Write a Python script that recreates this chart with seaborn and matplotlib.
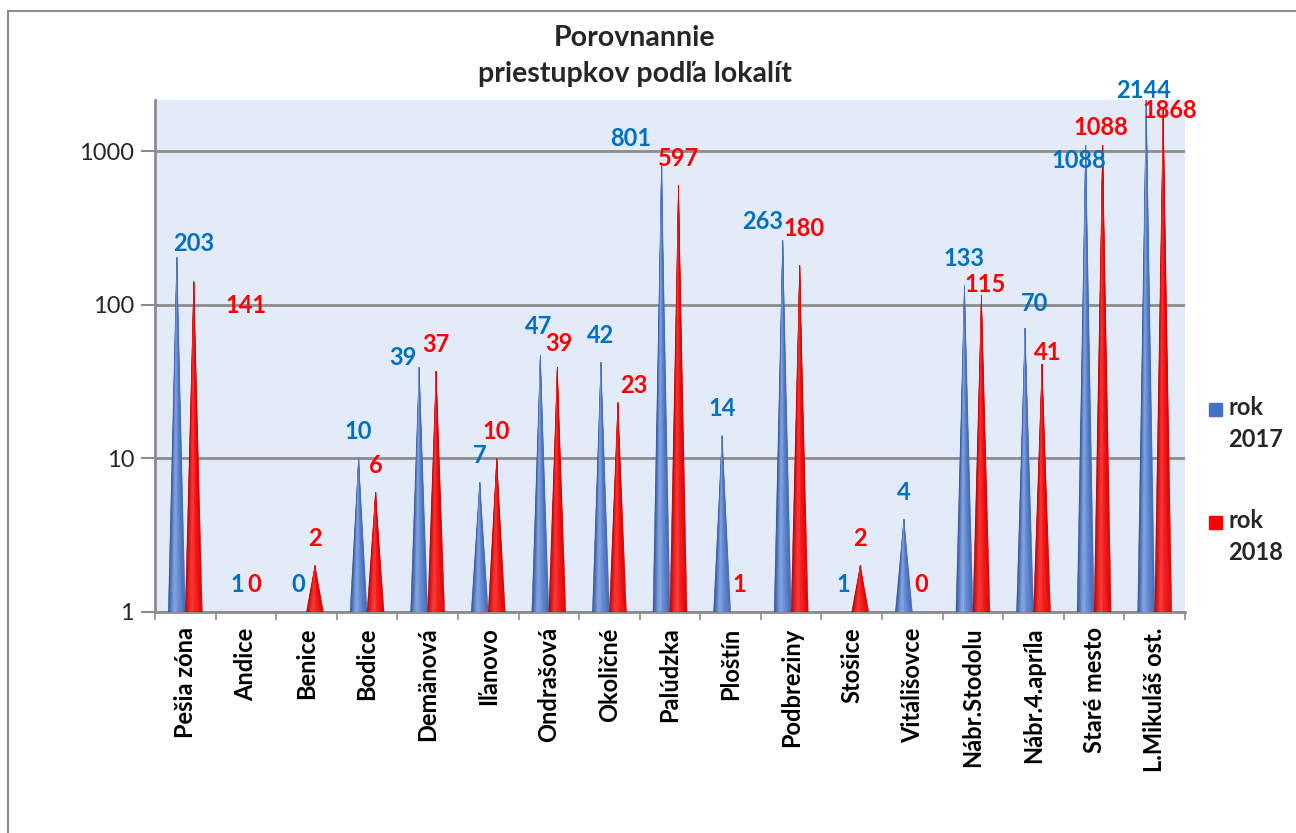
import numpy as np
import pandas as pd
import matplotlib
matplotlib.use("Agg")
import matplotlib.pyplot as plt
from matplotlib.patches import Rectangle
from matplotlib.colors import to_rgb
import seaborn as sns

# ---------------- data ----------------
categories = ["Pešia zóna", "Andice", "Benice", "Bodice", "Demänová", "Iľanovo",
              "Ondrašová", "Okoličné", "Palúdzka", "Ploštín", "Podbreziny", "Stošice",
              "Vitálišovce", "Nábr.Stodolu", "Nábr.4.apríla", "Staré mesto", "L.Mikuláš ost."]
values_2017 = [203, 1, 0, 10, 39, 7, 47, 42, 801, 14, 263, 1, 4, 133, 70, 1088, 2144]
values_2018 = [141, 0, 2, 6, 37, 10, 39, 23, 597, 1, 180, 2, 0, 115, 41, 1088, 1868]
series_names = ["rok 2017", "rok 2018"]
ytick_values = [1, 10, 100, 1000]
title_text = "Porovnannie\npriestupkov podľa lokalít"

# ---------------- style ----------------
sns.set_style("white")
plt.rcParams["font.family"] = ["Lato", "DejaVu Sans"]

blue_main = "#4472C4"
red_main = "#FF0000"
label_colors = ["#0070C0", "#FF0000"]
# gradient stops (left edge, highlight, right edge)
grad = [
    ["#2B4F93", "#7FA3E3", "#4169B8"],
    ["#B00000", "#FF3030", "#E00000"],
]

# label nudges in pixels (dx, dy) relative to default (centered, 27 px above tip)
nudges = {
    (0, 0): (17, -13), (1, 0): (52, -51),
    (0, 4): (-16, -17),
    (0, 6): (-2, 2), (1, 6): (2, -3),
    (1, 7): (16, -10),
    (0, 8): (-31, 0),
    (0, 10): (-20, -8), (1, 10): (4, 10),
    (1, 13): (4, -16),
    (0, 14): (10, -2), (1, 14): (6, -15),
    (0, 15): (-7, -42), (1, 15): (-2, -9),
    (0, 16): (-3, -17), (1, 16): (7, -28),
}

df = pd.DataFrame({
    "lokalita": categories * 2,
    "rok": [series_names[0]] * len(categories) + [series_names[1]] * len(categories),
    "pocet": values_2017 + values_2018,
})

fig = plt.figure(figsize=(12.96, 8.33), dpi=100)
ax = fig.add_axes([155 / 1296, 1 - 612 / 833, (1185 - 155) / 1296, (612 - 100) / 833])

sns.barplot(data=df, x="lokalita", y="pocet", hue="rok",
            palette=[blue_main, red_main], width=0.56, ax=ax, legend=False,
            errorbar=None)

ax.set_yscale("log")
ymin, ymax = 1, 2150
ax.set_ylim(ymin, ymax)
ax.set_xlim(-0.5, len(categories) - 0.5)
ax.set_facecolor("#E3EAF8")


def lerp(c1, c2, t):
    a, b = np.array(to_rgb(c1)), np.array(to_rgb(c2))
    return tuple(a + (b - a) * t)


def cone_color(stops, t):
    if t < 0.35:
        return lerp(stops[0], stops[1], t / 0.35)
    return lerp(stops[1], stops[2], (t - 0.35) / 0.65)


N = 18
for si, cont in enumerate(ax.containers):
    for bar in cont:
        bar.set_visible(False)
        h = bar.get_height()
        xc = bar.get_x() + bar.get_width() / 2
        w = bar.get_width()
        if h > 1:
            edges = np.linspace(xc - w / 2, xc + w / 2, N + 1)
            for k in range(N):
                t = (k + 0.5) / N
                col = cone_color(grad[si], t)
                ax.fill([edges[k], edges[k + 1], xc], [ymin, ymin, h],
                        color=col, lw=0.4, ec=col, zorder=3)
        # data label
        i = int(round(xc))
        dx, dy = nudges.get((si, i), (0, 0))
        ax.annotate(f"{int(round(h))}", xy=(xc, max(h, 1)),
                    xytext=(dx, 27 + dy), textcoords="offset pixels",
                    ha="center", va="center", fontsize=17, fontweight="bold",
                    color=label_colors[si], zorder=5, annotation_clip=False)

# grid / ticks
ax.yaxis.set_major_locator(matplotlib.ticker.FixedLocator(ytick_values))
ax.yaxis.set_minor_locator(matplotlib.ticker.NullLocator())
ax.set_yticklabels([str(v) for v in ytick_values], fontsize=17, color="#262626")
ax.grid(axis="y", which="major", color="#8C8C8C", lw=2, zorder=1)
ax.set_axisbelow(True)
ax.tick_params(axis="y", which="major", direction="out", length=10, width=1.5,
               color="#8C8C8C", left=True, pad=5)

ax.set_xticks(range(len(categories)))
ax.set_xticklabels(categories, rotation=90, fontsize=17, fontweight="bold",
                   color="black")
ax.set_xticks(np.arange(-0.5, len(categories), 1), minor=True)
ax.tick_params(axis="x", which="major", length=0, pad=11)
ax.tick_params(axis="x", which="minor", direction="out", length=6, width=1.2,
               color="#8C8C8C", bottom=True)
ax.set_xlabel("")
ax.set_ylabel("")

for side in ["top", "right"]:
    ax.spines[side].set_visible(False)
for side in ["left", "bottom"]:
    ax.spines[side].set_color("#8C8C8C")
    ax.spines[side].set_linewidth(2)

# title
fig.text(635 / 1296, 1 - 56 / 833, title_text, ha="center", va="center",
         fontsize=20.5, fontweight="bold", linespacing=1.5)

# legend (manual, to keep the square aligned with the first line)
for si, name in enumerate(series_names):
    yc = 410 + si * 113
    fig.patches.append(Rectangle((1209 / 1296, 1 - (yc + 6) / 833), 13 / 1296, 13 / 833,
                                 transform=fig.transFigure,
                                 color=[blue_main, red_main][si], zorder=5))
    word, year = name.split(" ")
    fig.text(1228 / 1296, 1 - (yc - 14) / 833, f"{word}\n{year}", ha="left", va="top",
             fontsize=17, fontweight="bold", linespacing=1.45)

# outer chart border
fig.patches.append(Rectangle((8 / 1296, -0.05), 1.2, 1 - 11 / 833 + 0.05,
                             transform=fig.transFigure, fill=False,
                             ec="#8C8C8C", lw=1.5, zorder=0))

fig.savefig("out.png", dpi=100)
